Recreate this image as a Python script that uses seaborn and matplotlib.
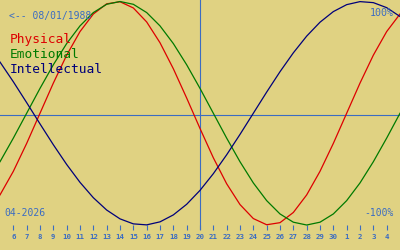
import matplotlib
matplotlib.use("Agg")
import matplotlib.pyplot as plt
import pandas as pd
import seaborn as sns

# x positions: 0 = April 5, 15 = April 20 (today), 30 = May 5
day = [0, 1, 2, 3, 4, 5, 6, 7, 8, 9, 10, 11, 12, 13, 14, 15,
       16, 17, 18, 19, 20, 21, 22, 23, 24, 25, 26, 27, 28, 29, 30]

physical = [-0.7308, -0.5196, -0.2698, 0.0, 0.2698, 0.5196, 0.7308, 0.8879,
            0.9791, 0.9977, 0.9423, 0.8170, 0.6311, 0.3984, 0.1362, -0.1362,
            -0.3984, -0.6311, -0.8170, -0.9423, -0.9977, -0.9791, -0.8879,
            -0.7308, -0.5196, -0.2698, 0.0, 0.2698, 0.5196, 0.7308, 0.8879]

emotional = [-0.4339, -0.2225, 0.0, 0.2225, 0.4339, 0.6235, 0.7818, 0.9010,
             0.9749, 1.0, 0.9749, 0.9010, 0.7818, 0.6235, 0.4339, 0.2225,
             0.0, -0.2225, -0.4339, -0.6235, -0.7818, -0.9010, -0.9749,
             -1.0, -0.9749, -0.9010, -0.7818, -0.6235, -0.4339, -0.2225, 0.0]

intellectual = [0.4582, 0.2817, 0.0951, -0.0951, -0.2817, -0.4582, -0.6182,
                -0.7557, -0.8660, -0.9450, -0.9898, -0.9989, -0.9718, -0.9096,
                -0.8146, -0.6901, -0.5406, -0.3717, -0.1893, 0.0, 0.1893,
                0.3717, 0.5406, 0.6901, 0.8146, 0.9096, 0.9718, 0.9989,
                0.9898, 0.9450, 0.8660]

tick_pos = [1, 2, 3, 4, 5, 6, 7, 8, 9, 10, 11, 12, 13, 14, 15, 16, 17,
            18, 19, 20, 21, 22, 23, 24, 25, 26, 27, 28, 29]
tick_labels = ["6", "7", "8", "9", "10", "11", "12", "13", "14", "15",
               "16", "17", "18", "19", "20", "21", "22", "23", "24", "25",
               "26", "27", "28", "29", "30", "1", "2", "3", "4"]

series_names = ["Physical", "Emotional", "Intellectual"]
series_colors = ["#dd0000", "#007a00", "#00007a"]
today_pos = 15
birth_text = "<-- 08/01/1988"
month_text = "04-2026"

BG = "#e0d282"
UI = "#3b6cc2"
MONO = "DejaVu Sans Mono"

df = pd.DataFrame({
    "day": day * 3,
    "value": physical + emotional + intellectual,
    "series": ["Physical"] * len(day) + ["Emotional"] * len(day)
              + ["Intellectual"] * len(day),
})

fig = plt.figure(figsize=(4, 2.5), dpi=100, facecolor=BG)
ax = fig.add_axes([0, 20 / 250, 1, 230 / 250])
ax.set_facecolor(BG)

ax.axhline(-0.0157, color=UI, lw=0.8, zorder=1)
ax.axvline(today_pos, color=UI, lw=0.8, zorder=1)

sns.lineplot(data=df, x="day", y="value", hue="series",
             palette=dict(zip(series_names, series_colors)),
             hue_order=series_names, estimator=None, legend=False,
             linewidth=0.9, ax=ax, zorder=3)

ax.set_xlim(0, 30)
ax.set_ylim(-1.0447, 1.0134)
for s in ax.spines.values():
    s.set_visible(False)
ax.set_xlabel("")
ax.set_ylabel("")
ax.set_yticks([])
ax.set_xticks(tick_pos)
ax.set_xticklabels(tick_labels, fontfamily=MONO, fontweight="bold")
ax.tick_params(axis="x", direction="in", length=3.8, width=0.8, color=UI,
               labelcolor=UI, labelsize=5.3, pad=3)

def px(x, y):
    return x / 400, 1 - y / 250

# legend texts
for i, (name, col) in enumerate(zip(series_names, series_colors)):
    fig.text(*px(10, 43 + 15 * i), name, color=col, fontsize=9.3,
             fontfamily=MONO, va="baseline", ha="left")

fig.text(*px(9, 19.5), birth_text, color=UI, fontsize=7.0,
         fontfamily=MONO, va="baseline", ha="left")
fig.text(*px(394, 15.7), "100%", color=UI, fontsize=7.2,
         fontfamily=MONO, va="baseline", ha="right")
fig.text(*px(394, 216), "-100%", color=UI, fontsize=7.0,
         fontfamily=MONO, va="baseline", ha="right")
fig.text(*px(4, 216), month_text, color=UI, fontsize=7.0,
         fontfamily=MONO, va="baseline", ha="left")

fig.savefig("out.png", dpi=100, facecolor=BG)
